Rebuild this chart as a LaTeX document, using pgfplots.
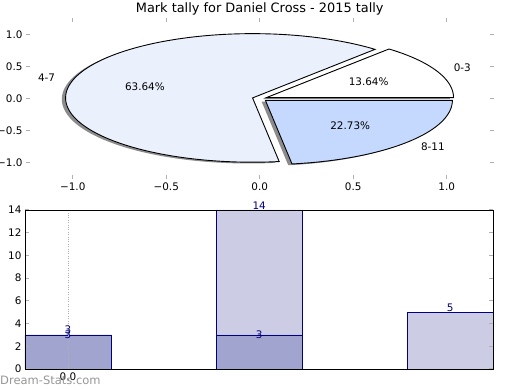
\documentclass[border=0pt]{standalone}
\usepackage{pgfplots}
\pgfplotsset{compat=1.18}
\usepackage{pgfplotstable}
\usepackage{fontspec}
\setmainfont{DejaVu Sans}
\definecolor{wA}{RGB}{255,255,255}
\definecolor{wB}{RGB}{234,241,253}
\definecolor{wC}{RGB}{197,216,253}
\definecolor{barlight}{RGB}{204,204,228}
\definecolor{bardark}{RGB}{162,164,208}
\definecolor{navyc}{RGB}{0,0,128}
\definecolor{tickgray}{RGB}{176,176,176}
\definecolor{shadowc}{RGB}{140,140,140}

\pgfplotstableread{
label count
0-3 3
4-7 14
8-11 5
}\tally
\pgfplotstablegetelem{0}{count}\of\tally \let\cA\pgfplotsretval
\pgfplotstablegetelem{1}{count}\of\tally \let\cB\pgfplotsretval
\pgfplotstablegetelem{2}{count}\of\tally \let\cC\pgfplotsretval

\pgfmathsetmacro\tot{\cA+\cB+\cC}
\pgfmathsetmacro\sA{0}
\pgfmathsetmacro\eA{360*\cA/\tot}
\pgfmathsetmacro\sB{\eA}
\pgfmathsetmacro\eB{\eA+360*\cB/\tot}
\pgfmathsetmacro\sC{\eB}
\pgfmathsetmacro\eC{360}
\def\ex{0.04}
\pgfmathsetmacro\mA{(\sA+\eA)/2}
\pgfmathsetmacro\mB{(\sB+\eB)/2}
\pgfmathsetmacro\mC{(\sC+\eC)/2}
\pgfmathsetmacro\dxA{\ex*cos(\mA)}\pgfmathsetmacro\dyA{\ex*sin(\mA)}
\pgfmathsetmacro\dxB{\ex*cos(\mB)}\pgfmathsetmacro\dyB{\ex*sin(\mB)}
\pgfmathsetmacro\dxC{\ex*cos(\mC)}\pgfmathsetmacro\dyC{\ex*sin(\mC)}
\pgfmathsetmacro\lxA{\dxA+1.1*cos(\mA)}\pgfmathsetmacro\lyA{\dyA+1.1*sin(\mA)}
\pgfmathsetmacro\lxB{\dxB+1.1*cos(\mB)}\pgfmathsetmacro\lyB{\dyB+1.1*sin(\mB)}
\pgfmathsetmacro\lxC{\dxC+1.1*cos(\mC)}\pgfmathsetmacro\lyC{\dyC+1.1*sin(\mC)}
\pgfmathsetmacro\pxA{\dxA+0.6*cos(\mA)}\pgfmathsetmacro\pyA{\dyA+0.6*sin(\mA)}
\pgfmathsetmacro\pxB{\dxB+0.6*cos(\mB)}\pgfmathsetmacro\pyB{\dyB+0.6*sin(\mB)}
\pgfmathsetmacro\pxC{\dxC+0.6*cos(\mC)}\pgfmathsetmacro\pyC{\dyC+0.6*sin(\mC)}
\def\so{0.02}

\begin{document}
\begin{tikzpicture}
\begin{axis}[
  at={(26pt,211pt)}, anchor=south west, scale only axis,
  width=467.5pt, height=160.7pt,
  xmin=-1.25, xmax=1.25, ymin=-1.25, ymax=1.25,
  axis line style={draw=none},
  xtick={-1,-0.5,0,0.5,1}, xticklabels={−1.0,−0.5,0.0,0.5,1.0},
  ytick={-1,-0.5,0,0.5,1}, yticklabels={−1.0,−0.5,0.0,0.5,1.0},
  tick align=inside, major tick length=4pt,
  tick style={tickgray, line width=1pt},
  xticklabel pos=lower, xtick pos=both,
  yticklabel pos=left, ytick pos=both,
  xticklabel style={font=\fontsize{10.4}{11}\selectfont, anchor=north},
  yticklabel style={font=\fontsize{10.4}{11}\selectfont, anchor=east},
  title={Mark tally for Daniel Cross - 2015 tally},
  title style={font=\fontsize{12.9}{14}\selectfont, anchor=base, yshift=-0.7pt, inner sep=0pt},
  clip=false,
]
% shadows
\addplot[draw=none, fill=shadowc, domain=\sA:\eA, samples=60, variable=\t]
  ({\dxA-\so+cos(\t)}, {\dyA-\so+sin(\t)}) -- (axis cs:\dxA-\so,\dyA-\so) -- cycle;
\addplot[draw=none, fill=shadowc, domain=\sB:\eB, samples=160, variable=\t]
  ({\dxB-\so+cos(\t)}, {\dyB-\so+sin(\t)}) -- (axis cs:\dxB-\so,\dyB-\so) -- cycle;
\addplot[draw=none, fill=shadowc, domain=\sC:\eC, samples=80, variable=\t]
  ({\dxC-\so+cos(\t)}, {\dyC-\so+sin(\t)}) -- (axis cs:\dxC-\so,\dyC-\so) -- cycle;
% wedges
\addplot[draw=black, line width=0.9pt, fill=wA, domain=\sA:\eA, samples=60, variable=\t]
  ({\dxA+cos(\t)}, {\dyA+sin(\t)}) -- (axis cs:\dxA,\dyA) -- cycle;
\addplot[draw=black, line width=0.9pt, fill=wB, domain=\sB:\eB, samples=160, variable=\t]
  ({\dxB+cos(\t)}, {\dyB+sin(\t)}) -- (axis cs:\dxB,\dyB) -- cycle;
\addplot[draw=black, line width=0.9pt, fill=wC, domain=\sC:\eC, samples=80, variable=\t]
  ({\dxC+cos(\t)}, {\dyC+sin(\t)}) -- (axis cs:\dxC,\dyC) -- cycle;
% labels
\node[font=\fontsize{10.4}{11}\selectfont, anchor=west, inner sep=0pt] at (axis cs:\lxA,\lyA) {0-3};
\node[font=\fontsize{10.4}{11}\selectfont, anchor=east, inner sep=0pt] at (axis cs:\lxB,\lyB) {4-7};
\node[font=\fontsize{10.4}{11}\selectfont, anchor=west, inner sep=0pt] at (axis cs:\lxC,\lyC) {8-11};
\node[font=\fontsize{10.4}{11}\selectfont, inner sep=0pt] at (axis cs:\pxA,\pyA) {13.64\%};
\node[font=\fontsize{10.4}{11}\selectfont, inner sep=0pt] at (axis cs:\pxB,\pyB) {63.64\%};
\node[font=\fontsize{10.4}{11}\selectfont, inner sep=0pt] at (axis cs:\pxC,\pyC) {22.73\%};
\end{axis}

\begin{axis}[
  at={(25pt,21pt)}, anchor=south west, scale only axis,
  width=468.3pt, height=159pt,
  xmin=-0.225, xmax=2.225, ymin=0, ymax=14,
  ytick={0,2,...,14},
  xtick={0}, xticklabels={0.0},
  xmajorgrids, major grid style={tickgray, dotted, line width=1pt},
  axis line style={black, line width=0.8pt},
  tick align=inside, major tick length=4pt,
  tick style={tickgray, line width=1pt},
  xtick pos=lower, ytick pos=both, yticklabel pos=left,
  xticklabel style={font=\fontsize{10.4}{11}\selectfont, anchor=north},
  yticklabel style={font=\fontsize{10.4}{11}\selectfont, anchor=east},
  /pgf/number format/assume math mode=true,
  axis on top, clip=false,
]
\addplot[ybar, bar width=0.45, bar shift=0pt, fill=barlight, draw=navyc, line width=0.8pt,
  nodes near coords,
  every node near coord/.append style={anchor=south, inner sep=0pt, yshift=0.5pt, text=navyc, font=\fontsize{10.4}{11}\selectfont}]
  coordinates {(0,3) (1,14) (2,5)};
\addplot[ybar, bar width=0.45, bar shift=0pt, fill=bardark, draw=navyc, line width=0.8pt,
  nodes near coords,
  every node near coord/.append style={anchor=center, inner sep=0pt, text=navyc, font=\fontsize{10.4}{11}\selectfont}]
  coordinates {(0,3) (1,3)};
\end{axis}
\node[anchor=base west, inner sep=0pt, text={rgb,255:red,150;green,150;blue,150}, font=\fontsize{11.5}{12}\selectfont] at (0pt,5pt) {Dream-Stats.com};
\pgfresetboundingbox
\useasboundingbox (0pt,0pt) rectangle (520pt,390pt);
\end{tikzpicture}
\end{document}
